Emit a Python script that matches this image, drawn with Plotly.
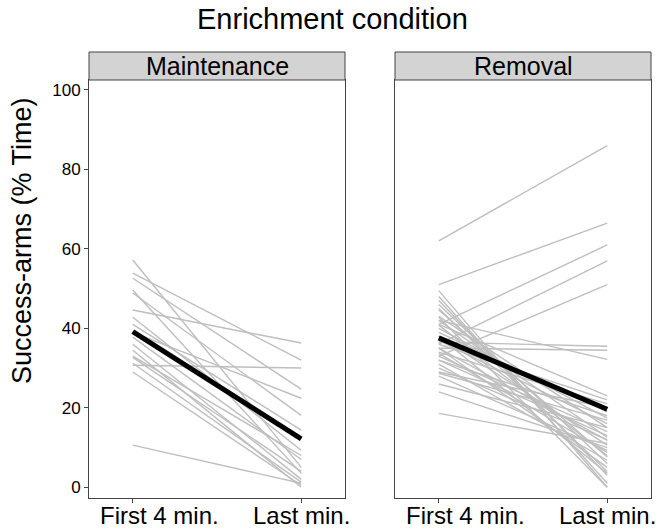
import numpy as np
import plotly.graph_objects as go

categories = ["First 4 min.", "Last min."]
panels = ["Maintenance", "Removal"]

# Maintenance subjects: success-arms % time
maint_first = [57.2, 53.9, 52.6, 49.6, 48.9, 44.6, 42.8, 41.0, 39.0, 37.8,
               36.0, 34.5, 33.0, 32.7, 31.2, 30.7, 29.0, 10.6]
maint_last = [5.0, 32.0, 24.7, 3.5, 18.1, 36.3, 9.3, 14.4, 22.4, 7.0,
              2.0, 0.0, 8.0, 4.0, 1.3, 30.0, 0.5, 1.0]

# Removal subjects
remov_first = [62.0, 51.0, 41.0, 36.0, 33.0, 36.5, 35.0, 42.0,
               18.6, 24.0, 26.0, 28.7, 28.0, 29.0, 30.0, 31.0, 32.0, 32.0,
               33.0, 33.7, 34.0, 35.0, 35.0, 36.0, 37.0, 38.0, 38.0, 39.0,
               40.0, 40.8, 41.0, 42.0, 43.0, 44.6, 45.0, 46.0, 47.0, 48.0,
               49.5, 42.8]
remov_last = [86.0, 66.5, 61.0, 57.0, 51.0, 35.5, 34.5, 32.2,
              11.0, 10.0, 15.0, 16.9, 9.3, 20.0, 12.0, 6.8, 13.0, 18.0,
              14.0, 8.8, 21.0, 11.8, 5.0, 22.0, 16.0, 10.6, 3.5, 19.0,
              17.4, 8.0, 23.0, 12.6, 15.0, 7.6, 4.0, 6.0, 3.0, 1.0,
              0.0, 0.0]

y_ticks = [0, 20, 40, 60, 80, 100]

FONT = "Liberation Sans"
GRAY = "#BEBEBE"

fig = go.Figure()

def add_panel(first, last, xa, ya):
    xs, ys = [], []
    for f, l in zip(first, last):
        xs += [categories[0], categories[1], None]
        ys += [f, l, None]
    fig.add_trace(go.Scatter(x=xs, y=ys, mode="lines", xaxis=xa, yaxis=ya,
                             line=dict(color=GRAY, width=1.4),
                             connectgaps=False, showlegend=False, hoverinfo="skip"))
    fig.add_trace(go.Scatter(x=categories, y=[float(np.mean(first)), float(np.mean(last))],
                             mode="lines", xaxis=xa, yaxis=ya,
                             line=dict(color="black", width=5),
                             showlegend=False, hoverinfo="skip"))

add_panel(maint_first, maint_last, "x", "y")
add_panel(remov_first, remov_last, "x2", "y2")

W, H = 664, 529


def px(x):
    return x / W


def py(y):
    return 1 - y / H


dom1 = [px(89), px(345)]
dom2 = [px(395), px(651)]
ydom = [py(498), py(80)]
strip = [py(80), py(52)]

xcommon = dict(type="category", categoryorder="array", categoryarray=categories,
               range=[-0.26, 1.26], showline=True, mirror=True, linecolor="#444444",
               linewidth=1, ticks="outside", ticklen=4, tickcolor="#444444",
               showgrid=False, zeroline=False, automargin=False,
               showticklabels=False)
ycommon = dict(range=[-2.7, 102.5], tickvals=y_ticks, showline=True, mirror=True,
               linecolor="#444444", linewidth=1, showgrid=False, zeroline=False,
               domain=ydom, automargin=False)

fig.update_layout(
    width=W, height=H,
    margin=dict(l=0, r=0, t=0, b=0),
    paper_bgcolor="white", plot_bgcolor="white",
    xaxis=dict(domain=dom1, anchor="y", **xcommon),
    xaxis2=dict(domain=dom2, anchor="y2", **xcommon),
    yaxis=dict(anchor="x", ticks="outside", ticklen=4, tickcolor="#444444",
               tickfont=dict(family=FONT, size=17, color="black"),
               **ycommon),
    yaxis2=dict(anchor="x2", showticklabels=False, ticks="", **ycommon),
    font=dict(family=FONT, color="black"),
)

# x category labels (first label sits slightly right of its tick, as in the original)
label_shift = [27, 0]
for xref in ["x", "x2"]:
    for cat, shift in zip(categories, label_shift):
        fig.add_annotation(xref=xref, yref="paper", x=cat, y=py(515), text=cat,
                           showarrow=False, xshift=shift,
                           font=dict(family=FONT, size=24, color="black"),
                           xanchor="center", yanchor="middle")

# y-axis title
fig.add_annotation(xref="paper", yref="paper", x=px(22), y=py(241),
                   text="Success-arms (% Time)", textangle=-90, showarrow=False,
                   font=dict(family=FONT, size=27, color="black"),
                   xanchor="center", yanchor="middle")

# facet strips
for dom, label in zip([dom1, dom2], panels):
    fig.add_shape(type="rect", xref="paper", yref="paper",
                  x0=dom[0], x1=dom[1], y0=strip[0], y1=strip[1],
                  fillcolor="#D3D3D3", line=dict(color="#444444", width=1))
    fig.add_annotation(xref="paper", yref="paper", x=(dom[0] + dom[1]) / 2,
                       y=(strip[0] + strip[1]) / 2, text=label, showarrow=False,
                       font=dict(family=FONT, size=25, color="black"),
                       xanchor="center", yanchor="middle")

fig.add_annotation(xref="paper", yref="paper", x=px(332), y=py(19),
                   text="Enrichment condition", showarrow=False,
                   font=dict(family=FONT, size=29, color="black"),
                   xanchor="center", yanchor="middle")

fig.write_html("out.html", config={"displayModeBar": False},
               post_script="document.body.style.margin='0';")
